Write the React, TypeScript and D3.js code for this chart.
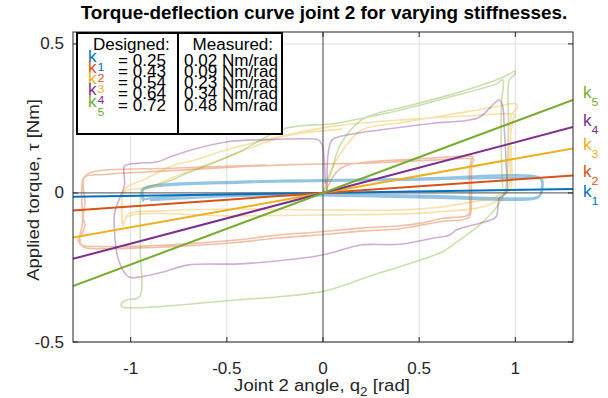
import React from 'react';
import * as d3 from 'd3';

const W = 608;
const H = 398;
const plot = { left: 73, right: 573, top: 32, bottom: 342 };
const xDomain: [number, number] = [-1.3, 1.3];
const yDomain: [number, number] = [-0.5, 0.54];
const xTicks = [-1, -0.5, 0, 0.5, 1];
const xTickLabels = ['-1', '-0.5', '0', '0.5', '1'];
const yTicks = [-0.5, 0, 0.5];
const yTickLabels = ['-0.5', '0', '0.5'];

const kIndex = ['1', '2', '3', '4', '5'];
const designed = ['0.25', '0.43', '0.54', '0.64', '0.72'];
const measured = ['0.02', '0.09', '0.23', '0.34', '0.48'];
const fitSlopes = [0.01, 0.045, 0.115, 0.17, 0.24];
const colors = ['#0072BD', '#D95319', '#EDB120', '#7E2F8E', '#77AC30'];
const labelNudge = [8, 1, 2, -1, -2];

type P = [number, number];

const loopK1: P[] = [
  [-0.936, -0.029], [-0.936, 0.01], [-0.893, 0.02], [-0.428, 0.035], [0.426, 0.044], [1.124, 0.049],
  [1.14, 0.044], [1.13, -0.007], [1.098, -0.016], [0.917, -0.017], [0.571, -0.01], [0.053, -0.005],
  [-0.428, -0.003], [-0.893, -0.017], [-0.93, -0.02], [-0.936, 0.012], [-0.89, 0.024], [-0.428, 0.038],
  [0.426, 0.047], [1.12, 0.053], [1.138, 0.04], [1.125, -0.012], [1.09, -0.021], [0.571, -0.016],
  [0.053, -0.009], [-0.428, -0.01], [-0.9, -0.024],
];

const loopK2: P[] = [
  [0.01, 0.0], [0.04, 0.04], [0.07, 0.07], [0.12, 0.092], [0.234, 0.104], [0.426, 0.112], [0.571, 0.117],
  [0.745, 0.124], [0.778, 0.121], [0.771, 0.111], [0.762, 0.077], [0.762, -0.007], [0.762, -0.067],
  [0.745, -0.077], [0.622, -0.085], [0.503, -0.102], [0.4, -0.11], [0.202, -0.118], [-0.005, -0.13],
  [-0.231, -0.141], [-0.454, -0.158], [-0.79, -0.174], [-1.135, -0.18], [-1.256, -0.174], [-1.273, -0.158],
  [-1.256, -0.141], [-1.238, -0.107], [-1.247, -0.084], [-1.238, -0.03], [-1.247, 0.027], [-1.238, 0.054],
  [-1.135, 0.062], [-0.79, 0.075], [-0.428, 0.088], [-0.109, 0.096], [0.234, 0.1], [0.426, 0.106],
  [0.571, 0.11], [0.74, 0.116], [0.785, 0.112], [0.775, 0.1], [0.772, 0.06], [0.772, -0.02],
  [0.765, -0.075], [0.745, -0.087], [0.622, -0.095], [0.4, -0.12], [0.202, -0.128], [-0.005, -0.14],
  [-0.231, -0.151], [-0.454, -0.166], [-0.79, -0.18], [-1.135, -0.187], [-1.25, -0.18], [-1.265, -0.15],
  [-1.25, -0.1], [-1.255, 0.0], [-1.245, 0.05], [-1.2, 0.07], [-0.79, 0.083], [-0.3, 0.094],
];

const loopK3: P[] = [
  [0, 0], [0.027, 0.055], [0.115, 0.155], [0.202, 0.211], [0.426, 0.238], [0.745, 0.272], [0.917, 0.292],
  [1.003, 0.299], [1.01, 0.285], [0.979, 0.262], [0.978, 0.144], [0.974, 0.01], [0.933, -0.003],
  [0.881, -0.017], [0.745, -0.034], [0.571, -0.05], [0.4, -0.057], [-0.014, -0.057], [-0.454, -0.054],
  [-0.842, -0.06], [-1.01, -0.07], [-1.04, -0.1], [-1.045, -0.05], [-1.043, 0.0], [-1.02, 0.02],
  [-0.93, 0.045], [-0.79, 0.09], [-0.67, 0.11], [-0.5, 0.145], [-0.15, 0.2], [0.064, 0.225],
  [0.426, 0.246], [0.745, 0.258], [1.0, 0.262], [0.99, 0.25], [0.97, 0.15], [0.965, 0.02],
  [0.881, -0.035], [0.571, -0.065], [-0.014, -0.074], [-0.454, -0.077], [-1.02, -0.081], [-1.04, -0.11],
  [-1.045, -0.02], [-1.03, 0.005], [-0.9, 0.02], [-0.75, 0.06], [-0.5, 0.12], [-0.2, 0.19], [0.1, 0.214],
];

const loopK4: P[] = [
  [0.021, 0.01], [0.027, 0.134], [0.047, 0.178], [0.098, 0.191], [0.234, 0.206], [0.426, 0.222],
  [0.571, 0.234], [0.745, 0.243], [0.814, 0.254], [0.917, 0.312], [0.933, 0.295], [0.943, 0.211],
  [0.952, 0.101], [0.953, 0], [0.917, -0.018], [0.9, -0.08], [0.848, -0.096], [0.745, -0.113],
  [0.693, -0.124], [0.659, -0.141], [0.571, -0.152], [0.4, -0.172], [0.202, -0.174], [0.098, -0.191],
  [-0.005, -0.208], [-0.195, -0.225], [-0.428, -0.238], [-0.704, -0.242], [-0.825, -0.264],
  [-0.945, -0.281], [-0.997, -0.284], [-1.023, -0.275], [-1.066, -0.219], [-1.083, -0.141],
  [-1.083, -0.063], [-1.057, -0.018], [-1.032, 0.027], [-1.035, 0.088], [-1.023, 0.094], [-0.962, 0.1],
  [-0.859, 0.105], [-0.79, 0.122], [-0.652, 0.15], [-0.497, 0.172], [-0.231, 0.18], [-0.109, 0.182],
  [-0.024, 0.178], [-0.004, 0.161], [0.007, 0.101], [0.012, 0.03],
];

const loopK5: P[] = [
  [0, 0], [0.038, 0.06], [0.09, 0.161], [0.2, 0.245], [0.286, 0.268], [0.426, 0.289], [0.659, 0.329],
  [0.778, 0.352], [0.9, 0.379], [0.969, 0.399], [1.0, 0.409], [0.995, 0.396], [0.969, 0.379],
  [0.964, 0.245], [0.958, 0.06], [0.945, 0.003], [0.9, -0.05], [0.814, -0.107], [0.71, -0.158],
  [0.622, -0.197], [0.426, -0.242], [0.234, -0.281], [0.115, -0.309], [-0.005, -0.331], [-0.231, -0.348],
  [-0.454, -0.359], [-0.962, -0.385], [-1.043, -0.382], [-1.049, -0.372], [-1.023, -0.359],
  [-0.955, -0.349], [-0.95, -0.191], [-0.95, -0.023], [-0.945, 0.01], [-0.91, 0.021], [-0.807, 0.038],
  [-0.704, 0.067], [-0.567, 0.101], [-0.43, 0.14], [-0.195, 0.217], [0.064, 0.233], [0.286, 0.262],
  [0.426, 0.282], [0.659, 0.322], [0.9, 0.366], [0.935, 0.379], [0.928, 0.3], [0.928, 0.111],
  [0.935, 0.017],
];

const loops = [loopK1, loopK2, loopK3, loopK4, loopK5];

const FONT = '"Liberation Sans", Arial, Helvetica, sans-serif';
const SX = 1.08; // horizontal stretch of the reference's text
const AX_FS = 15.8;
const LABEL_FS = 17.2;

function T(props: {
  x: number;
  y: number;
  size: number;
  anchor?: 'start' | 'middle' | 'end';
  fill?: string;
  weight?: string;
  rotate?: number;
  children: React.ReactNode;
}) {
  const { x, y, size, anchor = 'start', fill = '#000', weight = 'normal', rotate = 0, children } = props;
  const tf = rotate
    ? `translate(${x},${y}) rotate(${rotate}) scale(${SX},1)`
    : `translate(${x},${y}) scale(${SX},1)`;
  return (
    <text transform={tf} textAnchor={anchor} fontSize={size} fill={fill} fontWeight={weight}>
      {children}
    </text>
  );
}

export default function App() {
  const x = d3.scaleLinear().domain(xDomain).range([plot.left, plot.right]);
  const y = d3.scaleLinear().domain(yDomain).range([plot.bottom, plot.top]);
  const line = d3
    .line<P>()
    .x((d) => x(d[0]))
    .y((d) => y(d[1]))
    .curve(d3.curveCatmullRom.alpha(0.5));
  const straight = d3
    .line<P>()
    .x((d) => x(d[0]))
    .y((d) => y(d[1]));

  const axisColor = '#262626';
  const tickLen = 5;
  const rowY = (i: number) => 65.7 + 11.25 * i;

  return (
    <svg
      width={W}
      height={H}
      style={{ position: 'fixed', left: 0, top: 0, background: '#fff' }}
      fontFamily={FONT}
    >
      <defs>
        <clipPath id="plotClip">
          <rect x={plot.left} y={plot.top} width={plot.right - plot.left} height={plot.bottom - plot.top} />
        </clipPath>
      </defs>
      <rect x={0} y={0} width={W} height={H} fill="#fff" />
      {/* grid */}
      {xTicks
        .filter((t) => t !== 0)
        .map((t) => (
          <line key={'gx' + t} x1={x(t)} x2={x(t)} y1={plot.top} y2={plot.bottom} stroke="#dedede" strokeWidth={1} />
        ))}
      {yTicks
        .filter((t) => t !== 0)
        .map((t) => (
          <line key={'gy' + t} x1={plot.left} x2={plot.right} y1={y(t)} y2={y(t)} stroke="#dedede" strokeWidth={1} />
        ))}
      <g clipPath="url(#plotClip)">
        {loops.map((pts, i) => (
          <path
            key={'loop' + i}
            d={line(pts) || ''}
            fill="none"
            stroke={colors[i]}
            strokeOpacity={i === 0 ? 0.42 : 0.38}
            strokeWidth={i === 0 ? 2.2 : 1.6}
            strokeLinejoin="round"
          />
        ))}
        {/* zero lines */}
        <line x1={x(0)} x2={x(0)} y1={plot.top} y2={plot.bottom} stroke="#555" strokeWidth={1.3} strokeOpacity={0.85} />
        <line x1={plot.left} x2={plot.right} y1={y(0)} y2={y(0)} stroke="#555" strokeWidth={1.3} strokeOpacity={0.85} />
        {fitSlopes.map((s, i) => (
          <path
            key={'fit' + i}
            d={straight([[xDomain[0], s * xDomain[0]], [xDomain[1], s * xDomain[1]]]) || ''}
            stroke={colors[i]}
            strokeWidth={2}
            fill="none"
          />
        ))}
      </g>
      {/* axes box */}
      <rect
        x={plot.left}
        y={plot.top}
        width={plot.right - plot.left}
        height={plot.bottom - plot.top}
        fill="none"
        stroke={axisColor}
        strokeWidth={1}
      />
      {xTicks.map((t) => (
        <g key={'xt' + t}>
          <line x1={x(t)} x2={x(t)} y1={plot.bottom} y2={plot.bottom - tickLen} stroke={axisColor} />
          <line x1={x(t)} x2={x(t)} y1={plot.top} y2={plot.top + tickLen} stroke={axisColor} />
        </g>
      ))}
      {yTicks.map((t) => (
        <g key={'yt' + t}>
          <line x1={plot.left} x2={plot.left + tickLen} y1={y(t)} y2={y(t)} stroke={axisColor} />
          <line x1={plot.right} x2={plot.right - tickLen} y1={y(t)} y2={y(t)} stroke={axisColor} />
        </g>
      ))}
      {xTicks.map((t, i) => (
        <T key={'xl' + t} x={x(t)} y={374} size={AX_FS} anchor="middle" fill="#262626">
          {xTickLabels[i]}
        </T>
      ))}
      {yTicks.map((t, i) => (
        <T key={'yl' + t} x={64} y={y(t) + 5.5} size={AX_FS} anchor="end" fill="#262626">
          {yTickLabels[i]}
        </T>
      ))}
      {/* right-hand labels */}
      {fitSlopes.map((s, i) => {
        const by = y(s * xDomain[1]) + labelNudge[i];
        return (
          <T key={'rl' + i} x={583} y={by} size={AX_FS} fill={colors[i]}>
            k
            <tspan fontSize={11.5} dy={8}>
              {kIndex[i]}
            </tspan>
          </T>
        );
      })}
      {/* legend */}
      <rect x={77} y={33} width={101} height={101} fill="#fff" stroke="#000" strokeWidth={2} />
      <rect x={178} y={33} width={104} height={101} fill="#fff" stroke="#000" strokeWidth={2} />
      <T x={93} y={49.5} size={AX_FS}>
        Designed:
      </T>
      <T x={192.5} y={49.5} size={AX_FS}>
        Measured:
      </T>
      {designed.map((d, i) => (
        <g key={'lg' + i}>
          <T x={88} y={rowY(i) - 4} size={AX_FS} fill={colors[i]}>
            k
          </T>
          <T x={97.5} y={rowY(i) + 5} size={11.5} fill={colors[i]}>
            {kIndex[i]}
          </T>
          <T x={118} y={rowY(i)} size={AX_FS}>
            = {d}
          </T>
          <T x={184} y={rowY(i)} size={AX_FS}>
            {measured[i]} Nm/rad
          </T>
        </g>
      ))}
      {/* titles */}
      <T x={324} y={19} size={17.5} anchor="middle" weight="bold">
        Torque-deflection curve joint 2 for varying stiffnesses.
      </T>
      <T x={322} y={391} size={LABEL_FS} anchor="middle" fill="#262626">
        Joint 2 angle, q
        <tspan fontSize={12.5} dy={5}>
          2
        </tspan>
        <tspan dy={-5}> [rad]</tspan>
      </T>
      <T x={39} y={(plot.top + plot.bottom) / 2 + 3} size={LABEL_FS} anchor="middle" fill="#262626" rotate={-90}>
        Applied torque, τ [Nm]
      </T>
    </svg>
  );
}
